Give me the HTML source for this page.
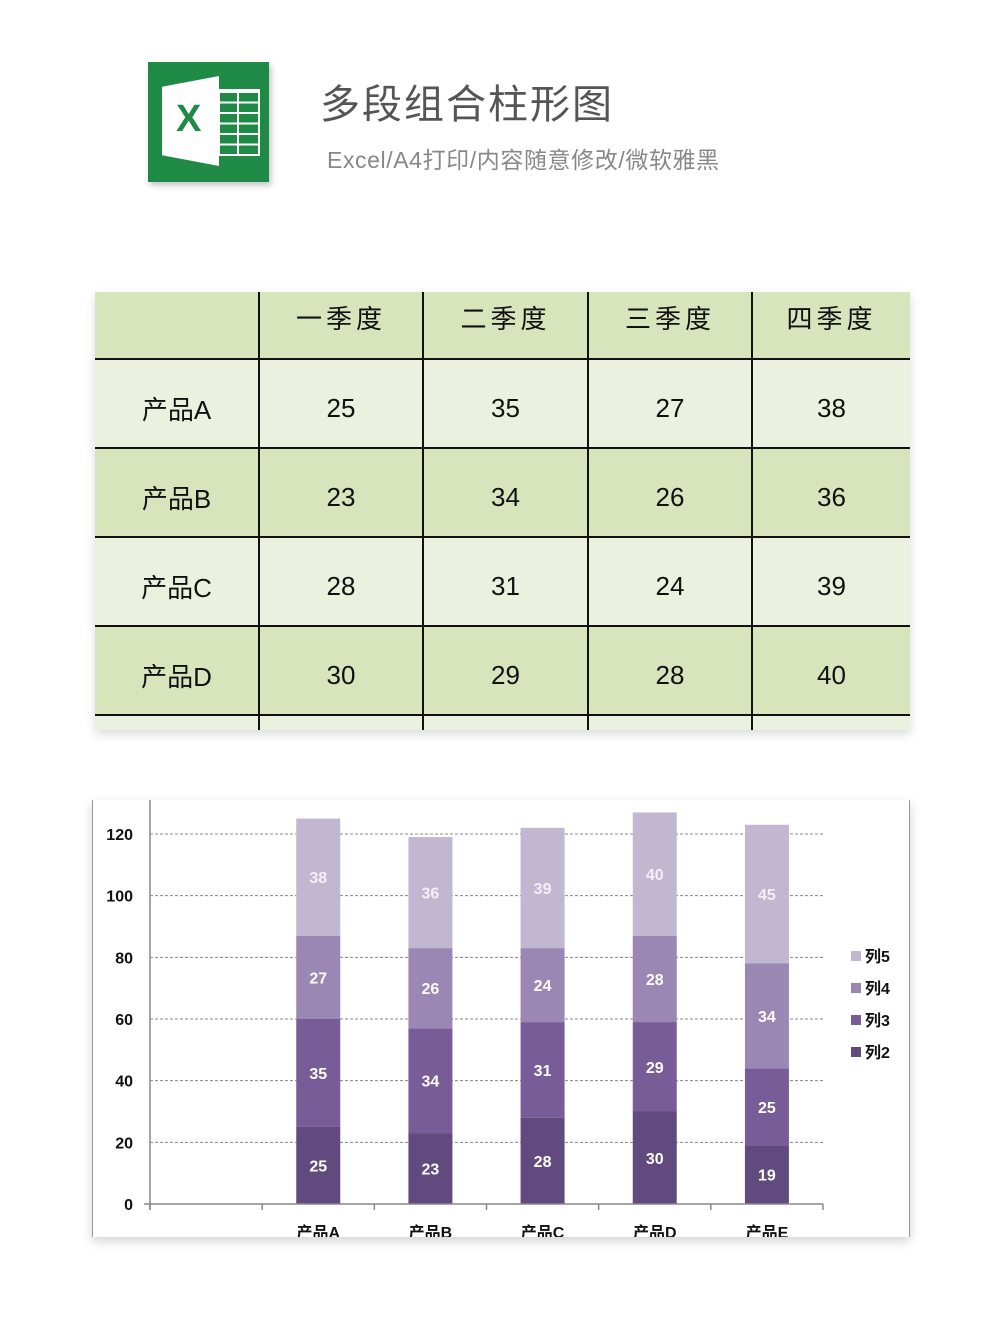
<!DOCTYPE html>
<html><head><meta charset="utf-8">
<style>
body{margin:0;width:1000px;height:1331px;background:#fff;position:relative;overflow:hidden;font-family:"Liberation Sans","Noto Sans CJK SC",sans-serif;}
.abs{position:absolute}
#logo{left:148px;top:62px;width:121px;height:120px;background:#1e8a45;box-shadow:2px 3px 6px rgba(0,0,0,.25)}
#title{left:320px;top:72px;font-size:40px;color:#555;letter-spacing:2px;white-space:nowrap}
#sub{left:327px;top:141px;font-size:23px;color:#888;white-space:nowrap;letter-spacing:0.6px}
#tbl{left:95px;top:292px;width:815px;height:438px;box-shadow:0 4px 10px rgba(0,0,0,.15);overflow:hidden}
table{border-collapse:collapse;width:815px;table-layout:fixed}
td{border:2px solid #111;text-align:center;font-size:26px;color:#111;padding:0}
tr.h td{height:66px;background:#d8e4bc;border-top:none;padding-bottom:16px;height:50px;letter-spacing:4px}
tr.l td{height:77px;padding-top:10px;background:#ebf1de}
tr.d td{height:77px;padding-top:10px;background:#d8e4bc}
td:first-child{border-left:none}td:last-child{border-right:none}
#chart{left:92px;top:800px;width:816px;height:437px;background:#fff;box-shadow:0 4px 10px rgba(0,0,0,.18);border-left:1px solid #999;border-right:1px solid #999}
</style></head><body>
<div id="logo" class="abs">
 <div class="abs" style="left:14px;top:14px;width:57px;height:90px;background:#fff;clip-path:polygon(0 12%,100% 0,100% 100%,0 88%)"></div>
 <div class="abs" style="left:28px;top:36px;font-size:38px;font-weight:bold;color:#1e8a45;font-family:'Liberation Sans'">X</div>
 <div class="abs" style="left:70px;top:27px;width:38px;height:63px;border:2px solid #fff;background:repeating-linear-gradient(#fff 0 2px,transparent 2px 10.5px),linear-gradient(90deg,transparent 0 17px,#fff 17px 19px,transparent 19px)"></div>
</div>
<div id="title" class="abs">多段组合柱形图</div>
<div id="sub" class="abs">Excel/A4打印/内容随意修改/微软雅黑</div>
<div id="tbl" class="abs">
<table>
<colgroup><col style="width:164px"><col style="width:164px"><col style="width:165px"><col style="width:164px"><col style="width:158px"></colgroup>
<tr class="h"><td></td><td>一季度</td><td>二季度</td><td>三季度</td><td>四季度</td></tr>
<tr class="l"><td>产品A</td><td>25</td><td>35</td><td>27</td><td>38</td></tr>
<tr class="d"><td>产品B</td><td>23</td><td>34</td><td>26</td><td>36</td></tr>
<tr class="l"><td>产品C</td><td>28</td><td>31</td><td>24</td><td>39</td></tr>
<tr class="d"><td>产品D</td><td>30</td><td>29</td><td>28</td><td>40</td></tr>
<tr class="l"><td></td><td></td><td></td><td></td><td></td></tr>
</table></div>
<div id="chart" class="abs">
<svg id="svg" width="816" height="437" xmlns="http://www.w3.org/2000/svg"></svg>
</div>
<script>
const categories=["","产品A","产品B","产品C","产品D","产品E"];
const s2=[0,25,23,28,30,19];
const s3=[0,35,34,31,29,25];
const s4=[0,27,26,24,28,34];
const s5=[0,38,36,39,40,45];
const seriesNames=["列2","列3","列4","列5"];
const yTicks=[0,20,40,60,80,100,120];
const colors=["#614a7e","#785c97","#9b87b3","#c2b7d1"];
const NS="http://www.w3.org/2000/svg";
const svg=document.getElementById('svg');
const x0=57,x1=730,y0=404,yMax=120,yPx=370;
const y=v=>y0-v/yMax*yPx;
const slot=(x1-x0)/categories.length;
const xc=i=>x0+slot*(i+0.5);
function mk(t,a,txt){const e=document.createElementNS(NS,t);for(const k in a)e.setAttribute(k,a[k]);if(txt!==undefined)e.textContent=txt;svg.appendChild(e);return e;}
yTicks.forEach(t=>{
 if(t>0){const g=mk('line',{x1:x0,x2:x1,y1:y(t),y2:y(t),stroke:'#888','stroke-dasharray':'3,2','stroke-width':1});
 
 }
 const l=mk('text',{x:40,y:y(t)+6,'text-anchor':'end','font-size':16,'font-weight':'bold',fill:'#111'},t);
 
 
});
const series=[s2,s3,s4,s5];
categories.forEach((c,i)=>{
 let base=0;const bw=44;
 series.forEach((s,k)=>{
  const v=s[i];if(!v)return;
  const r=mk('rect',{x:xc(i)-bw/2,y:y(base+v),width:bw,height:y(base)-y(base+v),fill:colors[k]});
  
  
  const t=mk('text',{x:xc(i),y:(y(base)+y(base+v))/2+6,'text-anchor':'middle','font-size':16,'font-weight':'bold',fill:k==3?'#f3f0f7':'#fff'},v);
  
  
  base+=v;
 });
 const cl=mk('text',{x:xc(i),y:y0+34,'text-anchor':'middle','font-size':16,'font-weight':'bold',fill:'#111'},c);
 
 
});
const ax=mk('line',{x1:x0,x2:x0,y1:0,y2:y0+6,stroke:'#888','stroke-width':1.5});


const bx=mk('line',{x1:x0-6,x2:x1,y1:y0,y2:y0,stroke:'#888','stroke-width':1.5});


for(let i=0;i<=categories.length;i++){const tk=mk('line',{x1:x0+slot*i,x2:x0+slot*i,y1:y0,y2:y0+6,stroke:'#888','stroke-width':1.5});
 
 }
[3,2,1,0].forEach((k,j)=>{
 const yy=161+j*32;
 const r=mk('rect',{x:758,y:yy-10,width:10,height:10,fill:colors[k]});
 
 
 const t=mk('text',{x:772,y:yy+1,'font-size':16,'font-weight':'bold',fill:'#111'},seriesNames[k]);
 
 
});
</script>
</body></html>
